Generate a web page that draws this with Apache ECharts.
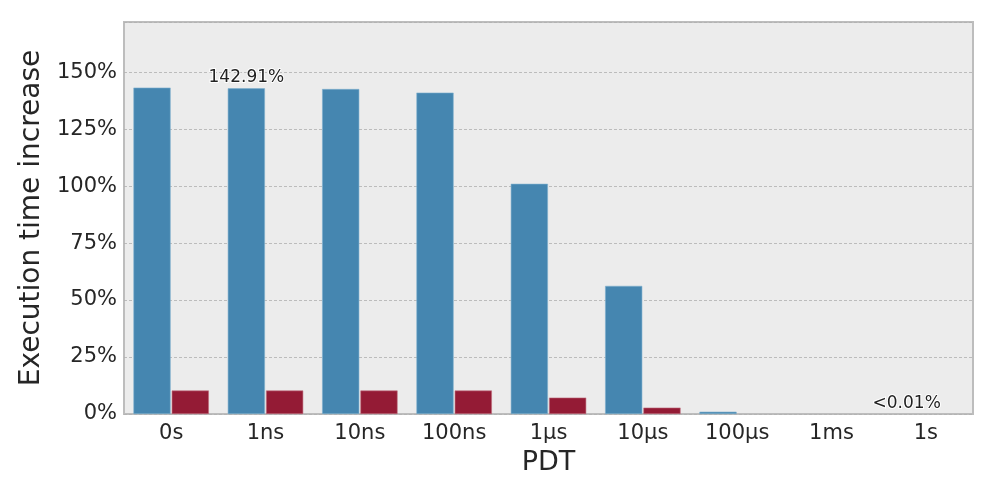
<!DOCTYPE html>
<html>
<head>
<meta charset="utf-8">
<script src="https://cdn.jsdelivr.net/npm/echarts@6/dist/echarts.min.js"></script>
<style>
  html, body { margin: 0; padding: 0; background: #fff; }
  #chart { width: 996px; height: 498px; }
</style>
</head>
<body>
<div id="chart"></div>
<script>
const categories = ['0s', '1ns', '10ns', '100ns', '1µs', '10µs', '100µs', '1ms', '1s']
const blueValues = [143.2, 142.91, 142.6, 141.0, 101.0, 56.2, 1.0, 0, 0]
const redValues = [10.3, 10.3, 10.3, 10.3, 7.2, 2.8, 0, 0, 0]
const blueLabels = ['', '142.91%', '', '', '', '', '', '', '<0.01%']

const blue = '#4586b0'
const red = '#941b35'
const textColor = '#262626'

const chart = echarts.init(document.getElementById('chart'))

function barStyle(color, edge, v) {
  // zero bars leave no visible edge
  return { color, borderColor: edge, borderWidth: v > 0 ? 0.6 : 0 }
}

chart.setOption({
  animation: false,
  grid: {
    left: 124, right: 23, top: 22, bottom: 84,
    show: true,
    backgroundColor: '#ececec',
    borderColor: '#bdbdbd',
    borderWidth: 2,
  },
  xAxis: {
    type: 'category',
    data: categories,
    name: 'PDT',
    nameLocation: 'middle',
    nameGap: 35,
    nameTextStyle: { color: textColor, fontSize: 27, fontFamily: 'DejaVu Sans' },
    axisLine: { show: false },
    axisTick: { show: false },
    axisLabel: { color: textColor, fontSize: 21, fontFamily: 'DejaVu Sans', margin: 9 },
  },
  yAxis: {
    type: 'value',
    min: 0,
    max: 172,
    interval: 25,
    name: 'Execution time increase',
    nameLocation: 'middle',
    nameGap: 77,
    nameTextStyle: { color: textColor, fontSize: 28, fontFamily: 'DejaVu Sans' },
    axisLine: { show: false },
    axisTick: { show: false },
    splitLine: { lineStyle: { color: '#b0b0b0', type: [3, 2], width: 0.8 } },
    axisLabel: {
      color: textColor, fontSize: 21, fontFamily: 'DejaVu Sans', margin: 7,
      showMaxLabel: false,
      formatter(v) { return v % 25 === 0 ? v + '%' : '' },
    },
  },
  series: [
    {
      type: 'bar',
      data: blueValues.map((v, i) => ({
        value: v,
        itemStyle: barStyle(blue, '#7fb0cf', v),
        label: {
          show: blueLabels[i] !== '',
          formatter: blueLabels[i],
          position: 'top',
          distance: 2,
          color: '#222',
          fontSize: 17,
          fontFamily: 'DejaVu Sans',
          textBorderColor: '#fff',
          textBorderWidth: 2,
        },
      })),
      barGap: '3%',
      barCategoryGap: '20%',
    },
    {
      type: 'bar',
      data: redValues.map(v => ({ value: v, itemStyle: barStyle(red, '#c07080', v) })),
      barGap: '3%',
      barCategoryGap: '20%',
    },
  ],
})
</script>
</body>
</html>
